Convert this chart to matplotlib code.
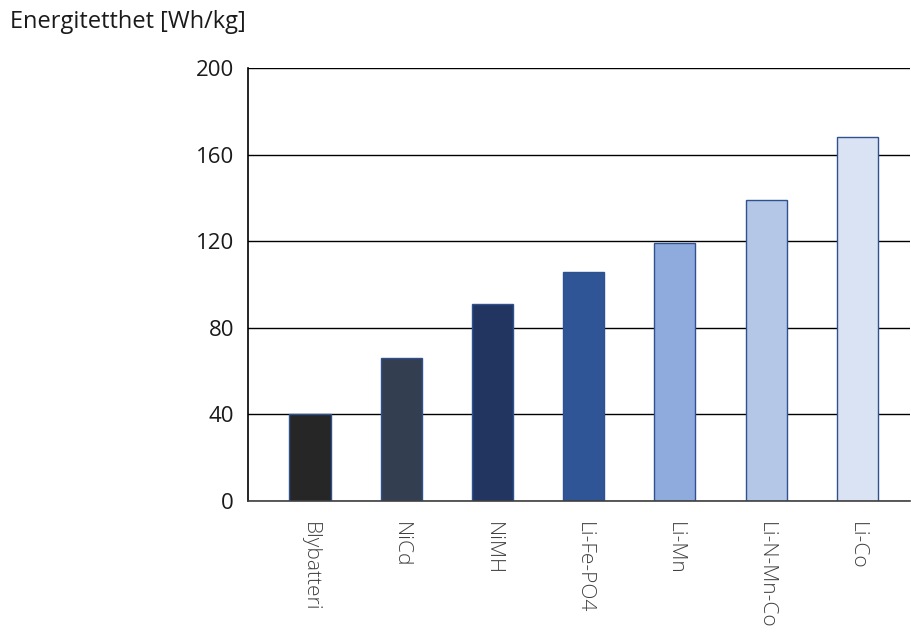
import matplotlib.pyplot as plt

plt.rcParams["font.family"] = ["Open Sans", "DejaVu Sans"]

# energy density per battery chemistry
kjemi = ["Blybatteri", "NiCd", "NiMH", "Li-Fe-PO4", "Li-Mn", "Li-N-Mn-Co", "Li-Co"]
energi = [40, 66, 91, 106, 119, 139, 168]
farger = ["#262626", "#333f50", "#223561", "#2f5597", "#8faadc", "#b4c7e7", "#dae3f3"]
yticks = [0, 40, 80, 120, 160, 200]

fig = plt.figure(figsize=(9.11, 6.37), dpi=100)
ax = fig.add_axes([0.2722, 0.2135, 0.727, 0.6797])

x = range(len(kjemi))
ax.bar(x, energi, width=0.45, color=farger, edgecolor="#2f528f", linewidth=1.0, zorder=3)

ax.set_ylim(0, 200)
ax.set_xlim(-0.68, 6.58)
ax.set_yticks(yticks)
ax.set_yticklabels([str(v) for v in yticks], fontsize=16, color="#1a1a1a")
ax.set_xticks(list(x))
ax.set_xticklabels(kjemi, rotation=270, fontsize=15, color="#404040", va="top", ha="center",
                   fontweight="light")
ax.tick_params(axis="both", length=0)
ax.tick_params(axis="y", pad=10)
ax.tick_params(axis="x", pad=15)

# horizontal grid lines
ax.yaxis.grid(True, color="black", linewidth=1.0)
ax.set_axisbelow(False)
for g in ax.get_ygridlines():
    g.set_zorder(4)

for s in ["top", "right"]:
    ax.spines[s].set_visible(False)
ax.spines["left"].set_color("black")
ax.spines["left"].set_linewidth(1.2)
ax.spines["bottom"].set_color("#404040")
ax.spines["bottom"].set_linewidth(1.2)
ax.spines["bottom"].set_zorder(5)

fig.text(0.011, 0.966, "Energitetthet [Wh/kg]", fontsize=17, color="#1a1a1a", va="center", ha="left")

fig.savefig("out.png", dpi=100)
